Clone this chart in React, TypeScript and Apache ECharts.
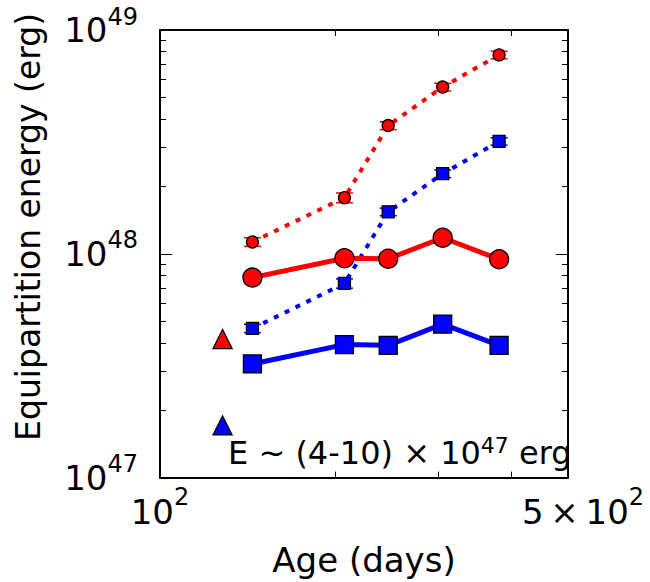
import React, { useEffect, useRef } from "react";
import * as echarts from "echarts";

// Ages (days) of the five epochs
const ages = [144, 207, 246, 305, 381];

// Red set: dotted = upper track, solid = equipartition track
const redUpper = [1.13e48, 1.78e48, 3.74e48, 5.56e48, 7.74e48];
const redUpperErr = [0.05e48, 0.09e48, 0.15e48, 0.22e48, 0.3e48];
const redEquip = [7.83e47, 9.55e47, 9.5e47, 1.18e48, 9.45e47];

// Blue set
const blueUpper = [4.64e47, 7.37e47, 1.54e48, 2.28e48, 3.18e48];
const blueUpperErr = [0.02e48, 0.035e48, 0.06e48, 0.09e48, 0.12e48];
const blueEquip = [3.22e47, 3.93e47, 3.9e47, 4.85e47, 3.9e47];

// Single estimates drawn as triangles
const estimateAge = 128;
const redEstimate = 4.16e47;
const blueEstimate = 1.71e47;

// Tick values (the top decade is nudged inside the extent so it is kept)
const xLabelTicks = [100, 500];
const xMinorTicks = [200, 300, 400];
const yMajorTicks = [1e47, 1e48, 0.9999999e49];
const yMinorTicks = [
  2e47, 3e47, 4e47, 5e47, 6e47, 7e47, 8e47, 9e47,
  2e48, 3e48, 4e48, 5e48, 6e48, 7e48, 8e48, 9e48,
];

const FONT = "DejaVu Sans";
const RED = "#ff0000";
const BLUE = "#0000ff";

const frameLine = { show: true, lineStyle: { color: "#000", width: 2 } };

function errorBars(name: string, values: number[], errs: number[], color: string) {
  return {
    name,
    type: "custom",
    z: 1,
    xAxisIndex: 0,
    yAxisIndex: 0,
    data: ages.map((a, i) => [a, values[i] - errs[i], values[i] + errs[i]]),
    encode: { x: 0, y: [1, 2] },
    renderItem: (_params: any, api: any) => {
      const x = api.value(0);
      const lo = api.coord([x, api.value(1)]);
      const hi = api.coord([x, api.value(2)]);
      const hw = 8.5;
      const style = { stroke: color, lineWidth: 1.5 };
      return {
        type: "group",
        children: [
          { type: "line", shape: { x1: lo[0], y1: lo[1], x2: hi[0], y2: hi[1] }, style },
          { type: "line", shape: { x1: lo[0] - hw, y1: lo[1], x2: lo[0] + hw, y2: lo[1] }, style },
          { type: "line", shape: { x1: hi[0] - hw, y1: hi[1], x2: hi[0] + hw, y2: hi[1] }, style },
        ],
      };
    },
  };
}

function lineSeries(
  name: string,
  values: number[],
  color: string,
  symbol: string,
  size: number,
  width: number,
  dotted: boolean,
  z: number
) {
  return {
    name,
    type: "line",
    z,
    data: ages.map((a, i) => [a, values[i]]),
    symbol,
    symbolSize: size,
    showAllSymbol: true,
    lineStyle: {
      color,
      width,
      type: dotted ? [5, 7] : "solid",
      cap: "butt",
    },
    itemStyle: { color, borderColor: "#000", borderWidth: 1.3, opacity: 1 },
  };
}

const supRich = (main: number, sup: number, raise: number) => ({
  b: { fontFamily: FONT, fontSize: main, lineHeight: main, color: "#000" },
  s: {
    fontFamily: FONT,
    fontSize: sup,
    lineHeight: sup,
    color: "#000",
    padding: [0, 0, raise, 0],
  },
  pad: { width: 30, fontSize: main },
});

export default function App() {
  const ref = useRef<HTMLDivElement>(null);

  useEffect(() => {
    if (!ref.current) return;
    const chart = echarts.init(ref.current, undefined, { renderer: "svg" });

    const yAxisBase = {
      type: "log",
      logBase: 10,
      min: 1e47,
      max: 1e49,
      splitLine: { show: false },
    };
    const xAxisBase = {
      type: "log",
      logBase: 10,
      min: 100,
      max: 500,
      splitLine: { show: false },
    };

    chart.setOption({
      animation: false,
      backgroundColor: "#fff",
      grid: { left: 160, right: 82, top: 30, bottom: 103, containLabel: false },
      xAxis: [
        {
          ...xAxisBase,
          position: "bottom",
          axisLine: frameLine,
          axisTick: {
            show: true,
            inside: true,
            length: 6,
            customValues: xMinorTicks,
            lineStyle: { color: "#000", width: 1 },
          },
          axisLabel: {
            show: true,
            customValues: xLabelTicks,
            showMinLabel: true,
            showMaxLabel: true,
            margin: 17,
            formatter: (v: number) =>
              v < 150 ? "{b|10}{s|2}" : "{pad| }{b|5\u2009×\u200910}{s|2}",
            rich: supRich(34, 24, 29),
          },
          name: "Age (days)",
          nameLocation: "middle",
          nameGap: 62,
          nameTextStyle: { fontFamily: FONT, fontSize: 34, color: "#000" },
        },
        {
          ...xAxisBase,
          position: "top",
          axisLine: frameLine,
          axisTick: {
            show: true,
            inside: true,
            length: 6,
            customValues: xMinorTicks,
            lineStyle: { color: "#000", width: 1 },
          },
          axisLabel: { show: false },
        },
      ],
      yAxis: [
        {
          ...yAxisBase,
          position: "left",
          axisLine: frameLine,
          axisTick: {
            show: true,
            inside: true,
            length: 12,
            customValues: yMajorTicks,
            lineStyle: { color: "#000", width: 1 },
          },
          axisLabel: {
            show: true,
            customValues: yMajorTicks,
            showMinLabel: true,
            showMaxLabel: true,
            margin: 22,
            formatter: (v: number) => `{b|10}{s|${Math.round(Math.log10(v))}}`,
            rich: supRich(34, 24, 27),
          },
        },
        {
          ...yAxisBase,
          position: "left",
          axisLine: { show: false },
          axisTick: {
            show: true,
            inside: true,
            length: 6,
            customValues: yMinorTicks,
            lineStyle: { color: "#000", width: 1 },
          },
          axisLabel: { show: false },
        },
        {
          ...yAxisBase,
          position: "right",
          axisLine: frameLine,
          axisTick: {
            show: true,
            inside: true,
            length: 12,
            customValues: yMajorTicks,
            lineStyle: { color: "#000", width: 1 },
          },
          axisLabel: { show: false },
        },
        {
          ...yAxisBase,
          position: "right",
          axisLine: { show: false },
          axisTick: {
            show: true,
            inside: true,
            length: 6,
            customValues: yMinorTicks,
            lineStyle: { color: "#000", width: 1 },
          },
          axisLabel: { show: false },
        },
      ],
      series: [
        errorBars("red upper errors", redUpper, redUpperErr, RED),
        errorBars("blue upper errors", blueUpper, blueUpperErr, BLUE),
        lineSeries("red upper", redUpper, RED, "circle", 12, 4, true, 2),
        lineSeries("blue upper", blueUpper, BLUE, "rect", 12, 4, true, 2),
        lineSeries("red equipartition", redEquip, RED, "circle", 19, 5, false, 3),
        lineSeries("blue equipartition", blueEquip, BLUE, "rect", 18, 5, false, 3),
        {
          name: "estimates",
          type: "scatter",
          z: 4,
          symbol: "triangle",
          symbolSize: 19,
          data: [
            { value: [estimateAge, redEstimate], itemStyle: { color: RED } },
            { value: [estimateAge, blueEstimate], itemStyle: { color: BLUE } },
          ],
          itemStyle: { borderColor: "#000", borderWidth: 1.3, opacity: 1 },
        },
      ],
      graphic: [
        {
          type: "text",
          left: 12,
          top: 13,
          style: {
            text: "Equipartition energy (erg)",
            fontFamily: FONT,
            fontSize: 33,
            fill: "#000",
          },
          rotation: Math.PI / 2,
          originX: 0,
          originY: 0,
        },
        {
          type: "text",
          x: 228,
          y: 437,
          style: {
            text: "{b|E ~ (4-10) × 10}{s|47}{b| erg}",
            rich: {
              b: { fontFamily: FONT, fontSize: 32, lineHeight: 32, fill: "#000" },
              s: {
                fontFamily: FONT,
                fontSize: 22,
                lineHeight: 22,
                fill: "#000",
                padding: [0, 0, 15, 0],
              },
            },
          },
          z: 10,
        },
      ],
    });

    return () => chart.dispose();
  }, []);

  return (
    <div
      ref={ref}
      style={{ position: "fixed", left: 0, top: 0, width: 650, height: 582, background: "#fff" }}
    />
  );
}
